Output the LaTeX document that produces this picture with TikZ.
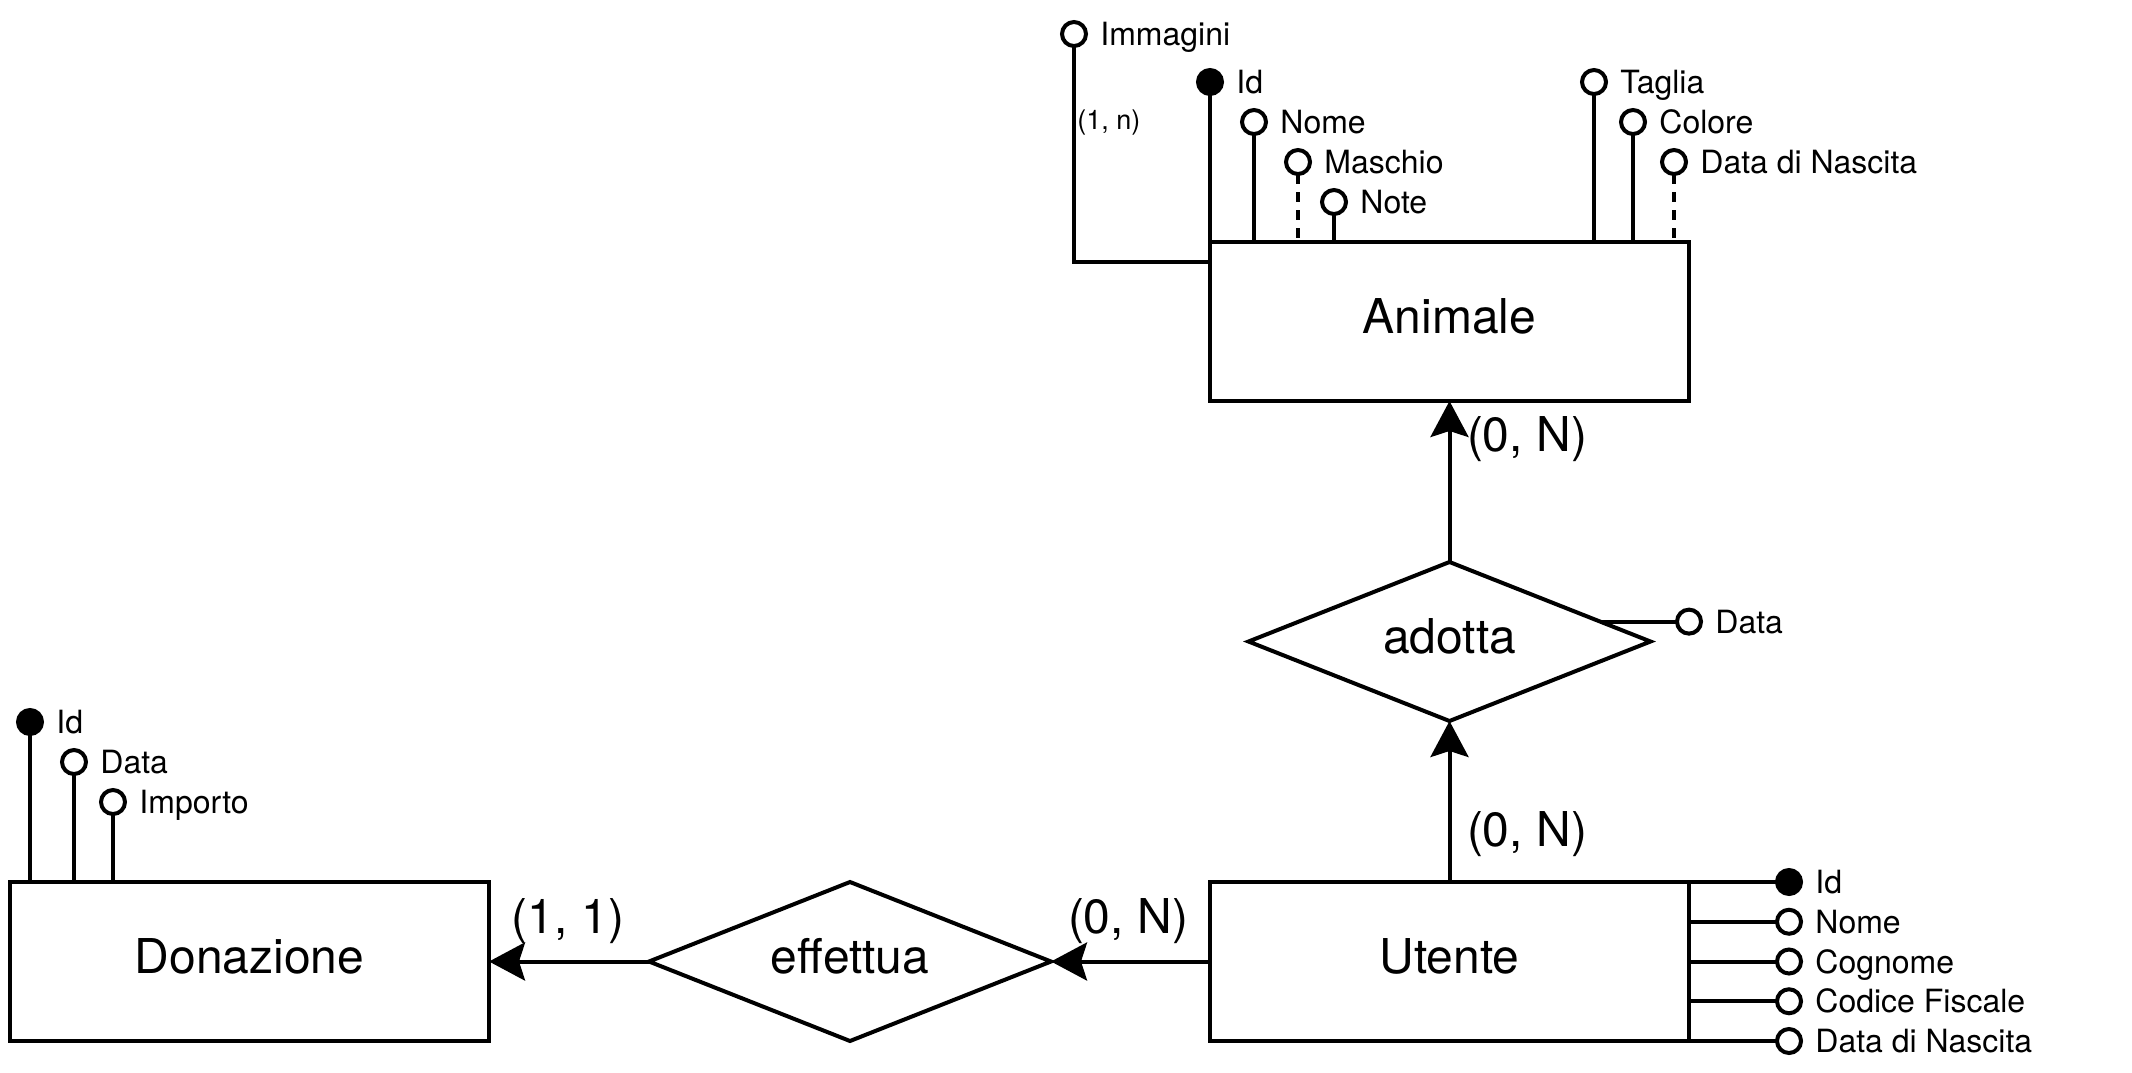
\documentclass[tikz,border=0pt]{standalone}
\usepackage{fontspec}
\setmainfont{TeX Gyre Heros}
\usetikzlibrary{arrows.meta,calc}
\tikzset{
  conn/.style={line width=2pt},
  ent/.style={draw, line width=2pt, rectangle, minimum width=239.5pt, minimum height=79.5pt,
    inner sep=0pt, outer sep=0pt, font=\fontsize{24}{28}\selectfont, text depth=6pt},
  reltext/.style={inner sep=0pt, outer sep=0pt, font=\fontsize{24}{28}\selectfont, text depth=6pt},
  attr/.style={circle, draw, line width=2pt, fill=white, minimum size=12pt, inner sep=0pt,
    outer sep=0pt},
  keyattr/.style={attr, fill=black},
  lbl/.style={font=\fontsize{16}{19}\selectfont, inner sep=0pt, text height=11.5pt, text depth=0pt, xshift=7pt},
  card/.style={font=\fontsize{24}{28}\selectfont, inner sep=0pt},
  smallcard/.style={font=\fontsize{13.5}{16}\selectfont, inner sep=0pt},
  arr/.style={conn, -{Stealth[length=18pt, width=19pt, inset=3pt]}},
  dashline/.style={conn, dash pattern=on 5pt off 4pt}
}
\begin{document}
\begin{tikzpicture}[x=0.5pt, y=-0.5pt]
\useasboundingbox (0,0) rectangle (2132,1072);

% entities
\node[ent] (animale) at (1449.5, 321.5) {Animale};
\node[ent] (utente) at (1449.5, 961.5) {Utente};
\node[ent] (donazione) at (249.5, 961.5) {Donazione};

% relationships (diamonds)
\node[reltext] (adotta) at (1449.5, 641.5) {adotta};
\coordinate (adottaN) at ($(adotta.center)+(0,-79.5)$);
\coordinate (adottaS) at ($(adotta.center)+(0,79.5)$);
\coordinate (adottaE) at ($(adotta.center)+(201,0)$);
\coordinate (adottaW) at ($(adotta.center)+(-201,0)$);
\draw[conn, line join=miter] (adottaN) -- (adottaE) -- (adottaS) -- (adottaW) -- cycle;

\node[reltext] (effettua) at (850, 961.5) {effettua};
\coordinate (effN) at ($(effettua.center)+(0,-79.5)$);
\coordinate (effS) at ($(effettua.center)+(0,79.5)$);
\coordinate (effE) at ($(effettua.center)+(201,0)$);
\coordinate (effW) at ($(effettua.center)+(-201,0)$);
\draw[conn, line join=miter] (effN) -- (effE) -- (effS) -- (effW) -- cycle;

% relationship connectors
\draw[arr] (adottaN) -- (animale.south);
\draw[arr] (utente.north) -- (adottaS);
\draw[arr] (utente.west) -- (effE);
\draw[arr] (effW) -- (donazione.east);

% cardinalities
\node[card] (c1) at (1527, 439) {(0, N)};
\node[card] (c2) at (1527, 834) {(0, N)};
\node[card] (c3) at (1128, 921) {(0, N)};
\node[card] (c4) at (568, 921) {(1, 1)};

% Animale attributes
\node[attr, label={[lbl,name=immL]right:Immagini}] (imm) at (1074, 34) {};
\node[keyattr, label={[lbl,name=aidL]right:Id}] (aid) at (1210, 82) {};
\node[attr, label={[lbl,name=anomeL]right:Nome}] (anome) at (1254, 122) {};
\node[attr, label={[lbl,name=amaschioL]right:Maschio}] (amaschio) at (1298, 162) {};
\node[attr, label={[lbl,name=anoteL]right:Note}] (anote) at (1334, 202) {};
\node[attr, label={[lbl,name=atagliaL]right:Taglia}] (ataglia) at (1594, 82) {};
\node[attr, label={[lbl,name=acoloreL]right:Colore}] (acolore) at (1633, 122) {};
\node[attr, label={[lbl,name=adataL]right:Data di Nascita}] (adata) at (1674, 162) {};

\coordinate (immEnd) at ($(animale.north west)+(0,20)$);
\draw[conn] (imm.south) |- (immEnd);
\node[smallcard, anchor=west] (c1n) at (1077, 123) {(1, n)};
\draw[conn] (aid.south) -- (aid.south |- animale.north);
\draw[conn] (anome.south) -- (anome.south |- animale.north);
\draw[dashline] (amaschio.south) -- (amaschio.south |- animale.north);
\draw[conn] (anote.south) -- (anote.south |- animale.north);
\draw[conn] (ataglia.south) -- (ataglia.south |- animale.north);
\draw[conn] (acolore.south) -- (acolore.south |- animale.north);
\draw[dashline] (adata.south) -- (adata.south |- animale.north);

% adotta attribute
\coordinate (adE) at ($(adottaN)!0.75!(adottaE)$);
\node[attr, label={[lbl,name=rdataL]right:Data}] (rdata) at (adE -| 1689,0) {};
\draw[conn] (adE) -- (rdata.west);

% Utente attributes
\node[keyattr, label={[lbl,name=uidL]right:Id}] (uid) at (1789, 882) {};
\node[attr, label={[lbl,name=unomeL]right:Nome}] (unome) at (1789, 921.75) {};
\node[attr, label={[lbl,name=ucognomeL]right:Cognome}] (ucognome) at (1789, 961.5) {};
\node[attr, label={[lbl,name=ucfL]right:Codice Fiscale}] (ucf) at (1789, 1001.25) {};
\node[attr, label={[lbl,name=udataL]right:Data di Nascita}] (udata) at (1789, 1041) {};
\draw[conn] (utente.north east) -- (uid.west);
\draw[conn] (unome.west -| utente.east) -- (unome.west);
\draw[conn] (ucognome.west -| utente.east) -- (ucognome.west);
\draw[conn] (ucf.west -| utente.east) -- (ucf.west);
\draw[conn] (utente.south east) -- (udata.west);

% Donazione attributes
\node[keyattr, label={[lbl,name=didL]right:Id}] (did) at (30, 722) {};
\node[attr, label={[lbl,name=ddataL]right:Data}] (ddata) at (74, 762) {};
\node[attr, label={[lbl,name=dimpL]right:Importo}] (dimp) at (113, 802) {};
\draw[conn] (did.south) -- (did.south |- donazione.north);
\draw[conn] (ddata.south) -- (ddata.south |- donazione.north);
\draw[conn] (dimp.south) -- (dimp.south |- donazione.north);
\end{tikzpicture}
\end{document}
